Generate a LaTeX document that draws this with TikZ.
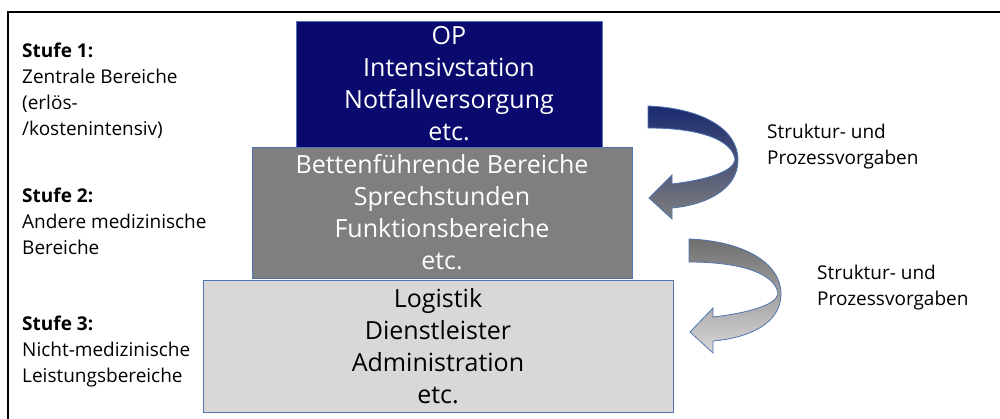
\documentclass[tikz,border=0pt]{standalone}
\usepackage{fontspec}
\setmainfont{Open Sans}
\definecolor{navy}{HTML}{0A0A6E}
\definecolor{midgray}{HTML}{7F7F7F}
\definecolor{lightgray}{HTML}{DAD7D7}
\definecolor{edgeblue}{HTML}{4F74B0}
\definecolor{arrownavy}{HTML}{1A2A70}
\definecolor{arrowgray}{HTML}{6E6E6E}
\tikzset{
  levelbox/.style={draw=edgeblue, line width=0.9pt, inner sep=0pt, align=center,
    font=\fontsize{25}{32}\selectfont},
  sidetext/.style={anchor=north west, inner sep=0pt, align=left,
    font=\fontsize{19}{26}\selectfont},
  arrowtext/.style={anchor=north west, inner sep=0pt, align=left,
    font=\fontsize{19}{26}\selectfont},
  curvarrow/.style={draw=edgeblue, line width=0.8pt, line join=miter}
}
\begin{document}
\begin{tikzpicture}[x=1pt,y=-1pt]
\useasboundingbox (0,0) rectangle (1000,419);
\begin{scope}
\clip (0,0) rectangle (1000,419);
\draw[line width=2pt] (8,12) rectangle (1010,430);
\end{scope}
% boxes
\node[levelbox, fill=lightgray, text=black, minimum width=470pt, minimum height=132pt] (l3) at (438,346)
  {Logistik\\Dienstleister\\Administration\\etc.};
\node[levelbox, fill=midgray, text=white, minimum width=380pt, minimum height=131pt] (l2) at (442,212.5)
  {Bettenführende Bereiche\\Sprechstunden\\Funktionsbereiche\\etc.};
\node[levelbox, fill=navy, text=white, minimum width=306pt, minimum height=126pt] (l1) at (449,84)
  {OP\\Intensivstation\\Notfallversorgung\\etc.};
% left labels
\node[sidetext] (s1) at (22,43) {\textbf{Stufe 1:}\\Zentrale Bereiche\\(erlös-\\/kostenintensiv)};
\node[sidetext] (s2) at (22,188) {\textbf{Stufe 2:}\\Andere medizinische\\Bereiche};
\node[sidetext] (s3) at (22,316) {\textbf{Stufe 3:}\\Nicht-medizinische\\Leistungsbereiche};
% right labels
\node[arrowtext] (t1) at (767,124) {Struktur- und\\Prozessvorgaben};
\node[arrowtext] (t2) at (817,265) {Struktur- und\\Prozessvorgaben};
% curved arrows
\path[curvarrow, top color=arrownavy, bottom color=midgray]
  (648,106) .. controls (700,108) and (738,128) .. (738,160)
  .. controls (738,190) and (705,205) .. (672,208)
  -- (672,219) -- (649,198) -- (672,175) -- (672,184)
  .. controls (705,180) and (733,172) .. (735,160)
  .. controls (733,140) and (700,128) .. (648,128) -- cycle;
\path[curvarrow, top color=arrowgray, bottom color=lightgray]
  (689,239) .. controls (742,241) and (781,262) .. (781,294)
  .. controls (781,324) and (748,338) .. (713,341)
  -- (713,353) -- (690,332) -- (713,308) -- (713,317)
  .. controls (748,313) and (776,305) .. (778,294)
  .. controls (776,274) and (742,262) .. (689,262) -- cycle;
\end{tikzpicture}
\end{document}
